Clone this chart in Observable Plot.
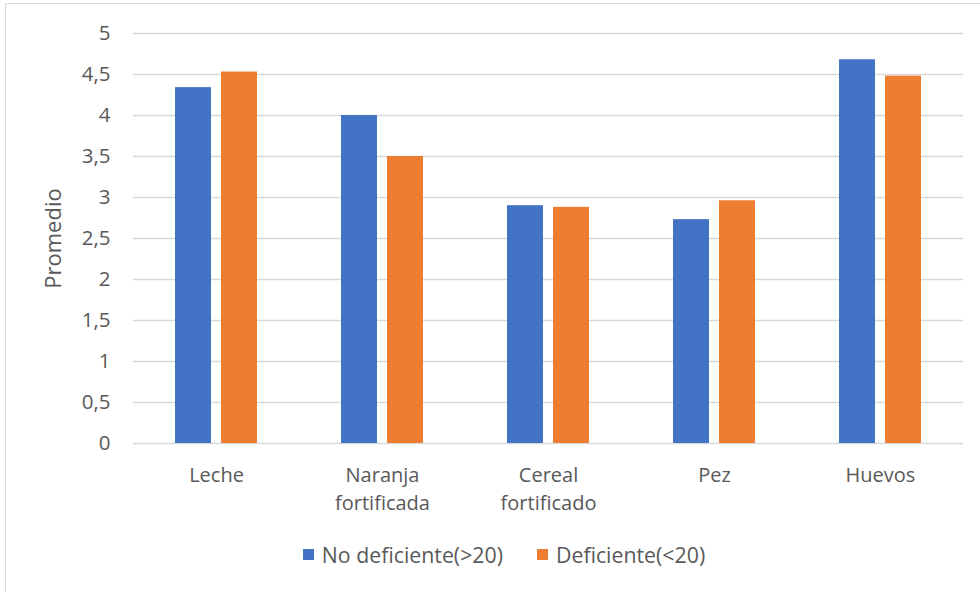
<!DOCTYPE html>
<html>
<head>
<meta charset="utf-8">
<script src="https://cdn.jsdelivr.net/npm/d3@7"></script>
<script src="https://cdn.jsdelivr.net/npm/@observablehq/plot@0.6"></script>
<style>
  html, body { margin: 0; padding: 0; background: #fff; }
  #wrap { position: relative; width: 980px; height: 592px; overflow: hidden; font-family: "Open Sans", sans-serif; color: #595959; }
  #frame { position: absolute; left: 5px; top: 3px; width: 1200px; height: 1200px; border: 1px solid #d9d9d9; box-sizing: border-box; }
  #chart { position: absolute; left: 0; top: 0; }
  #legend { position: absolute; left: 14px; width: 980px; top: 540px; display: flex; justify-content: center; gap: 34px; font-size: 21.3px; }
  #legend .item { display: flex; align-items: center; gap: 8px; }
  #legend .sw { width: 11px; height: 11px; display: inline-block; }
</style>
</head>
<body>
<div id="wrap">
  <div id="frame"></div>
  <div id="chart"></div>
  <div id="legend"></div>
</div>
<script>
// Categories and the two groups compared
const categories = ["Leche", "Naranja\nfortificada", "Cereal\nfortificado", "Pez", "Huevos"];
const series = ["No deficiente(>20)", "Deficiente(<20)"];
const colors = ["#4472C4", "#ED7D31"];

// Average score per category
const noDeficiente = [4.34, 4.0, 2.90, 2.73, 4.68];
const deficiente = [4.53, 3.5, 2.88, 2.96, 4.48];

// Y axis ticks
const yTicks = [0, 0.5, 1, 1.5, 2, 2.5, 3, 3.5, 4, 4.5, 5];

const data = categories.flatMap((c, i) => [
  {cat: c, serie: series[0], value: noDeficiente[i]},
  {cat: c, serie: series[1], value: deficiente[i]}
]);

const chart = Plot.plot({
  width: 980,
  height: 520,
  marginLeft: 133,
  marginRight: 17,
  marginTop: 33,
  marginBottom: 77,
  style: {fontFamily: "'Open Sans', sans-serif", fontSize: "20px", color: "#595959", background: "transparent"},
  fx: {domain: categories, paddingInner: 0, paddingOuter: 0, label: null},
  x: {domain: series, paddingInner: 0.21, paddingOuter: 0.875, axis: null},
  y: {domain: [0, 5], label: null},
  color: {domain: series, range: colors},
  marks: [
    Plot.ruleY(yTicks, {stroke: "#d9d9d9", strokeWidth: 1.3}),
    Plot.barY(data, {fx: "cat", x: "serie", y: "value", fill: "serie"}),
    Plot.axisY({
      ticks: yTicks,
      tickFormat: d => String(d).replace(".", ","),
      tickSize: 0,
      tickPadding: 23,
      fontSize: 20.5,
      label: null
    }),
    Plot.axisY({
      ticks: [],
      tickSize: 0,
      fontSize: 22,
      label: "Promedio",
      labelAnchor: "center",
      labelArrow: "none",
      labelOffset: 88
    }),
    Plot.axisFx({
      anchor: "bottom",
      tickSize: 0,
      tickPadding: 19,
      fontSize: 20,
      lineHeight: 1.4,
      label: null
    })
  ]
});
document.getElementById("chart").appendChild(chart);

// Legend below the plot
const legend = document.getElementById("legend");
series.forEach((s, i) => {
  const item = document.createElement("div");
  item.className = "item";
  item.innerHTML = `<span class="sw" style="background:${colors[i]}"></span><span>${s}</span>`;
  legend.appendChild(item);
});
</script>
</body>
</html>
